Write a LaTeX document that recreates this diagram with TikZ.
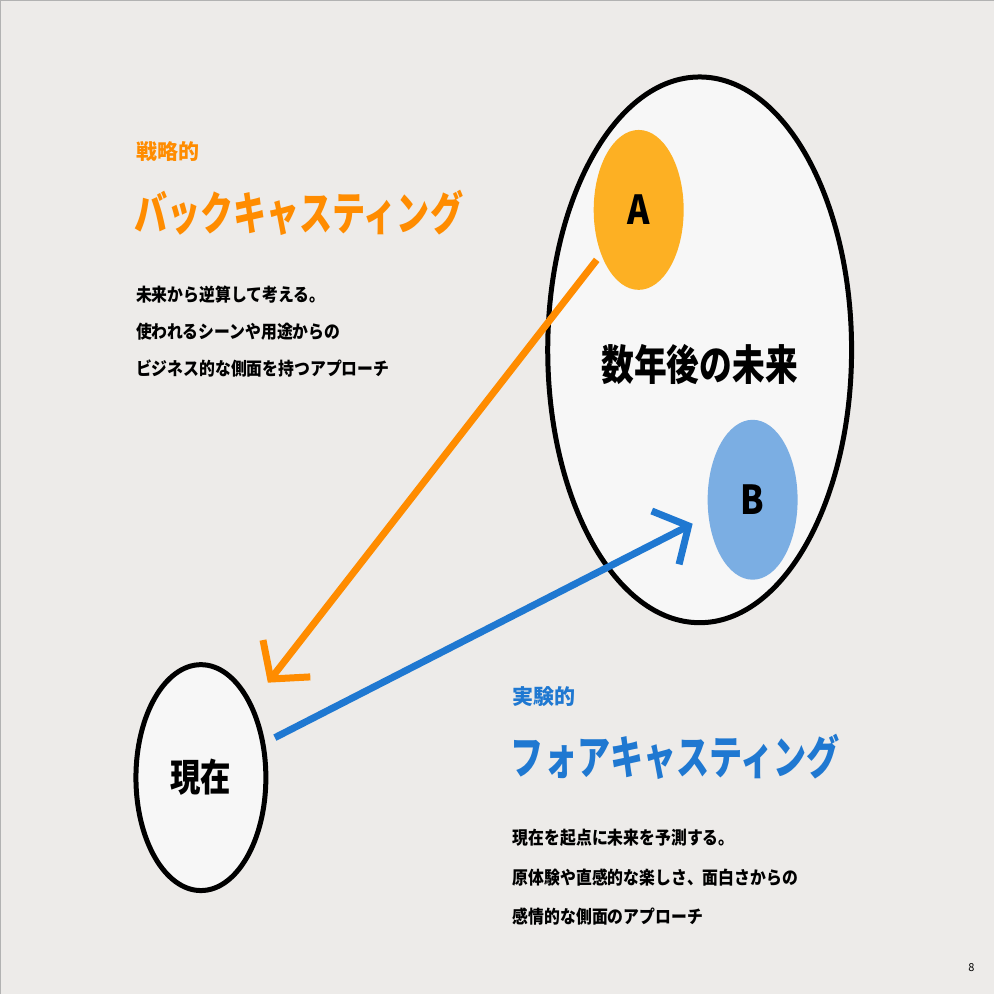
\documentclass[tikz,border=0pt]{standalone}
\usepackage{fontspec}
\usepackage{graphicx}
\newfontfamily\cjk{Noto Sans CJK JP}
\usetikzlibrary{arrows.meta,shapes.geometric}
\definecolor{bg}{HTML}{EDEBE9}
\definecolor{org}{HTML}{FF8C00}
\definecolor{blu}{HTML}{1F78D1}
\definecolor{ca}{HTML}{FDB023}
\definecolor{cb}{HTML}{7BAEE3}
\newcommand{\cond}[2]{\scalebox{#1}[1]{#2}}
\tikzset{lbl/.style={anchor=west,inner sep=0pt,font=\cjk\bfseries},
 body/.style={lbl,font=\cjk\bfseries\fontsize{18}{22}\selectfont},
 ring/.style={draw=black,line width=5pt,fill=white!97!black},
 arr/.style={line width=7pt,-{Straight Barb[length=26pt,width=60pt,line width=7pt]}}}
\begin{document}
\begin{tikzpicture}[x=1pt,y=-1pt]
\fill[bg] (0,0) rectangle (994,994);
\draw[gray!60,line width=1pt] (0.5,994) -- (0.5,0.5) -- (994,0.5);
\useasboundingbox (0,0) rectangle (994,994);
\node[ring,ellipse,minimum width=304pt,minimum height=546pt] (future) at (700,350) {};
\node[ellipse,fill=ca,minimum width=90pt,minimum height=160pt,font=\cjk\bfseries\fontsize{40}{40}\selectfont] (A) at (639,210) {\cond{0.85}{A}};
\node[ellipse,fill=cb,minimum width=90pt,minimum height=160pt,font=\cjk\bfseries\fontsize{40}{40}\selectfont] (B) at (753,500) {\cond{0.85}{B}};
\node[font=\cjk\bfseries\fontsize{42}{42}\selectfont] (ft) at (700,365) {\cond{0.78}{数年後の未来}};
\node[ring,ellipse,minimum width=130pt,minimum height=226pt,font=\cjk\bfseries\fontsize{38}{38}\selectfont] (now) at (201,778) {\cond{0.8}{現在}};
\coordinate (a1) at (597,260); \coordinate (a2) at (268,683);
\coordinate (b1) at (275,738); \coordinate (b2) at (693,524);
\draw[arr,org] (a1) -- (a2);
\draw[arr,blu] (b1) -- (b2);
\node[lbl,org,font=\cjk\bfseries\fontsize{21}{21}\selectfont] (t1) at (136,152) {戦略的};
\node[lbl,org,font=\cjk\bfseries\fontsize{46}{46}\selectfont] (t2) at (134,213) {\cond{0.72}{バックキャスティング}};
\node[body] (l1) at (136,295) {\cond{0.88}{未来から逆算して考える。}};
\node[body] (l2) at (136,332) {\cond{0.88}{使われるシーンや用途からの}};
\node[body] (l3) at (136,369) {\cond{0.88}{ビジネス的な側面を持つアプローチ}};
\node[lbl,blu,font=\cjk\bfseries\fontsize{21}{21}\selectfont] (s1) at (513,697) {実験的};
\node[lbl,blu,font=\cjk\bfseries\fontsize{46}{46}\selectfont] (s2) at (511,757) {\cond{0.72}{フォアキャスティング}};
\node[body] (m1) at (513,838) {\cond{0.88}{現在を起点に未来を予測する。}};
\node[body] (m2) at (513,878) {\cond{0.88}{原体験や直感的な楽しさ、面白さからの}};
\node[body] (m3) at (513,917) {\cond{0.88}{感情的な側面のアプローチ}};
\node[font=\cjk\fontsize{11}{11}\selectfont] (pg) at (972,968) {8};
\end{tikzpicture}
\end{document}
